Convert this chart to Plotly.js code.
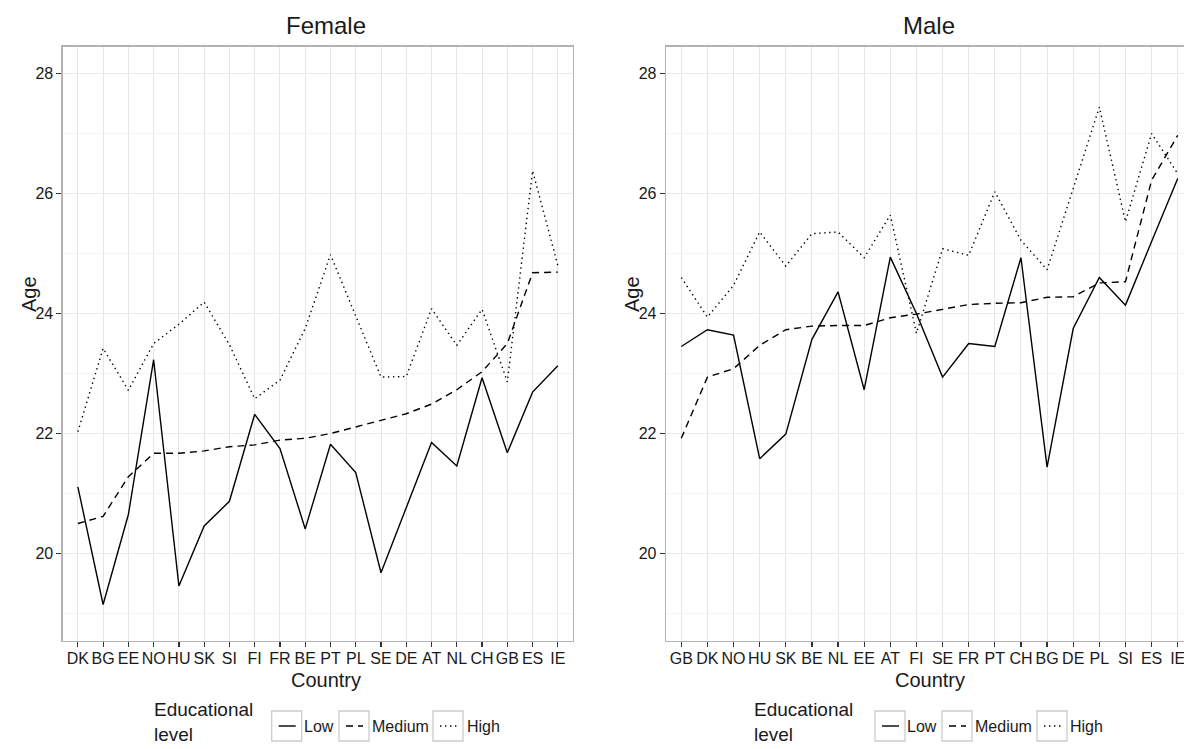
<!DOCTYPE html>
<html>
<head>
<meta charset="utf-8">
<script src="https://cdn.plot.ly/plotly-3.0.1.min.js"></script>
<style>
  html, body { margin: 0; padding: 0; background: #ffffff; }
  #chart { width: 1184px; height: 749px; }
</style>
</head>
<body>
<div id="chart"></div>
<script>
// Mean age by country and educational level, one panel per sex.
const femaleCountries = ['DK','BG','EE','NO','HU','SK','SI','FI','FR','BE','PT','PL','SE','DE','AT','NL','CH','GB','ES','IE'];
const femaleLow    = [21.11, 19.15, 20.65, 23.23, 19.46, 20.46, 20.87, 22.32, 21.75, 20.41, 21.82, 21.35, 19.68, 20.78, 21.85, 21.46, 22.93, 21.68, 22.69, 23.13];
const femaleMedium = [20.50, 20.62, 21.28, 21.67, 21.67, 21.71, 21.78, 21.81, 21.89, 21.92, 22.00, 22.11, 22.21, 22.33, 22.49, 22.73, 23.03, 23.50, 24.68, 24.69];
const femaleHigh   = [22.03, 23.42, 22.72, 23.50, 23.82, 24.19, 23.48, 22.58, 22.89, 23.75, 24.98, 23.97, 22.94, 22.95, 24.08, 23.47, 24.07, 22.86, 26.38, 24.80];

const maleCountries = ['GB','DK','NO','HU','SK','BE','NL','EE','AT','FI','SE','FR','PT','CH','BG','DE','PL','SI','ES','IE'];
const maleLow    = [23.45, 23.73, 23.64, 21.58, 21.99, 23.57, 24.36, 22.73, 24.94, 24.00, 22.94, 23.50, 23.45, 24.93, 21.44, 23.75, 24.60, 24.14, 25.20, 26.25];
const maleMedium = [21.92, 22.94, 23.08, 23.47, 23.73, 23.79, 23.80, 23.80, 23.93, 23.99, 24.07, 24.15, 24.17, 24.18, 24.27, 24.28, 24.51, 24.53, 26.22, 26.97];
const maleHigh   = [24.60, 23.94, 24.47, 25.36, 24.79, 25.33, 25.36, 24.93, 25.64, 23.67, 25.08, 24.97, 26.03, 25.22, 24.73, 26.10, 27.44, 25.53, 27.00, 26.33];

const levels = ['Low', 'Medium', 'High'];
const panelTitles = ['Female', 'Male'];
const yTicks = [20, 22, 24, 26, 28];

const W = 1184, H = 749;
const FONT = 'Liberation Sans, Arial, Helvetica, sans-serif';
const INK = '#1a1a1a';
const LW = 1.4;
const dashes = { Low: 'solid', Medium: '7px,5px', High: '1.4px,3.6px' };

const px = x => x / W;          // pixel -> paper x
const py = y => 1 - y / H;      // pixel -> paper y

function series(cats, vals, level, xa, ya) {
  return {
    type: 'scatter', mode: 'lines',
    x: cats, y: vals, name: level,
    xaxis: xa, yaxis: ya,
    line: { color: '#000000', width: LW, dash: dashes[level] },
    showlegend: false, hoverinfo: 'skip'
  };
}

const traces = [
  series(femaleCountries, femaleLow, 'Low', 'x', 'y'),
  series(femaleCountries, femaleMedium, 'Medium', 'x', 'y'),
  series(femaleCountries, femaleHigh, 'High', 'x', 'y'),
  series(maleCountries, maleLow, 'Low', 'x2', 'y2'),
  series(maleCountries, maleMedium, 'Medium', 'x2', 'y2'),
  series(maleCountries, maleHigh, 'High', 'x2', 'y2')
];

const yRange = [18.542, 28.447];

function xAxis(cats, domain, range, mirror) {
  return {
    type: 'category', categoryorder: 'array', categoryarray: cats,
    domain: domain, range: range, fixedrange: true,
    showgrid: true, gridcolor: '#e6e6e6', gridwidth: 1,
    showline: true, linecolor: '#b3b3b3', linewidth: 1.3, mirror: mirror,
    ticks: 'outside', ticklen: 5, tickwidth: 1.2, tickcolor: '#333333',
    tickangle: 0, ticklabelstandoff: -3,
    tickfont: { family: FONT, size: 16, color: INK },
    zeroline: false
  };
}

function yAxis(anchor, domain, mirror) {
  return {
    anchor: anchor, domain: domain, range: yRange, fixedrange: true,
    tickvals: yTicks, ticktext: yTicks.map(String),
    showgrid: true, gridcolor: '#ebebeb', gridwidth: 1,
    minor: { dtick: 1, tick0: 0, showgrid: true, gridcolor: '#f4f4f4', gridwidth: 1, ticks: '' },
    showline: true, linecolor: '#b3b3b3', linewidth: 1.3, mirror: mirror,
    ticks: 'outside', ticklen: 5, tickwidth: 1.2, tickcolor: '#333333',
    tickfont: { family: FONT, size: 16, color: INK },
    zeroline: false
  };
}

const yDom = [py(641), py(46.7)];

const layout = {
  width: W, height: H,
  margin: { l: 0, r: 0, t: 0, b: 0, pad: 0 },
  paper_bgcolor: '#ffffff', plot_bgcolor: '#ffffff',
  showlegend: false,
  xaxis: xAxis(femaleCountries, [px(62.7), px(573)], [-0.6, 19.6], true),
  yaxis: yAxis('x', yDom, true),
  xaxis2: Object.assign(xAxis(maleCountries, [px(666), 1], [-0.585, 19.24], true), { anchor: 'y2' }),
  yaxis2: yAxis('x2', yDom, false),
  annotations: [],
  shapes: []
};

function text(str, x, y, size, opts) {
  layout.annotations.push(Object.assign({
    text: str, xref: 'paper', yref: 'paper', x: px(x), y: py(y),
    xanchor: 'center', yanchor: 'middle', showarrow: false,
    font: { family: FONT, size: size, color: INK }
  }, opts || {}));
}

// Panel titles and axis titles
text(panelTitles[0], 326, 26, 24);
text(panelTitles[1], 929, 26, 24);
text('Country', 326, 680, 20);
text('Country', 930, 680, 20);
text('Age', 29, 294, 20, { textangle: -90 });
text('Age', 632, 294, 20, { textangle: -90 });

// Legend below each panel: title, keyed boxes and labels
function legend(titleX, boxXs, labelXs) {
  text('Educational<br>level', titleX, 722, 19, { xanchor: 'left', align: 'left' });
  levels.forEach((lvl, i) => {
    const bx = boxXs[i];
    layout.shapes.push({
      type: 'rect', xref: 'paper', yref: 'paper',
      x0: px(bx), x1: px(bx + 30), y0: py(741), y1: py(711),
      line: { color: '#cccccc', width: 1.3 }, fillcolor: '#ffffff'
    });
    layout.shapes.push({
      type: 'line', xref: 'paper', yref: 'paper',
      x0: px(bx + 7), x1: px(bx + 24), y0: py(726), y1: py(726),
      line: { color: '#000000', width: LW, dash: dashes[lvl] }
    });
    text(lvl, labelXs[i], 726, 16, { xanchor: 'left' });
  });
}
legend(152, [271.7, 339, 433], [302, 370, 465]);
legend(752, [875, 942, 1037], [905, 973, 1068]);

Plotly.newPlot('chart', traces, layout, { displayModeBar: false, staticPlot: true });
</script>
</body>
</html>
